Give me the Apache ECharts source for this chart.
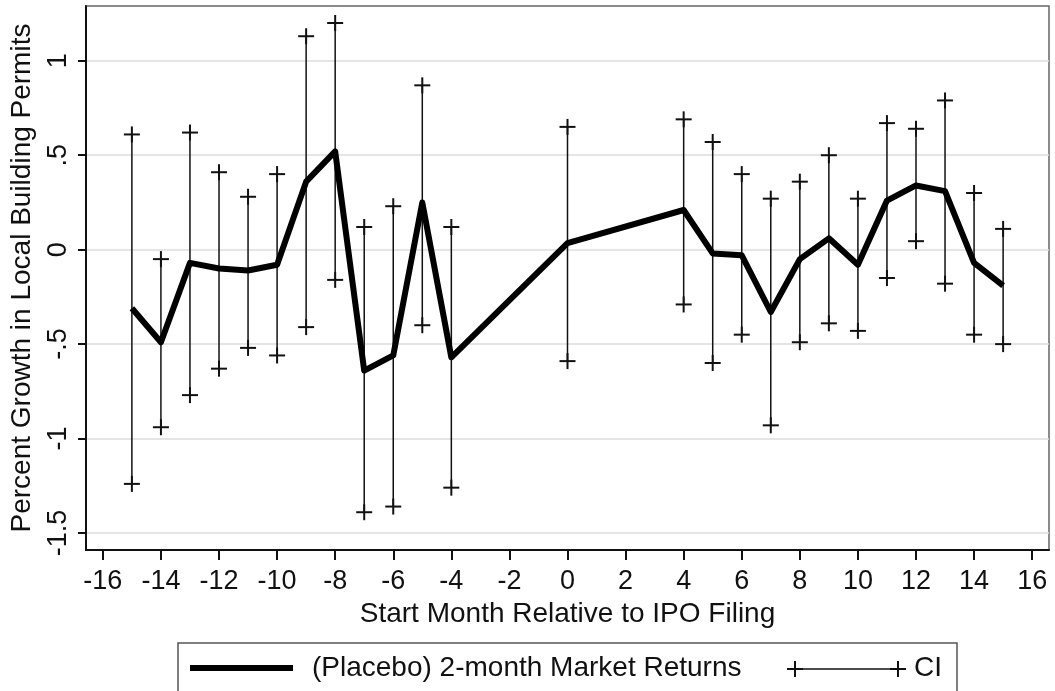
<!DOCTYPE html>
<html>
<head>
<meta charset="utf-8">
<script src="https://cdn.jsdelivr.net/npm/echarts@6/dist/echarts.min.js"></script>
<style>
  html, body { margin: 0; padding: 0; background: #fff; }
  #chart { width: 1055px; height: 691px; }
</style>
</head>
<body>
<div id="chart"></div>
<script>
// months relative to IPO filing
const months = [-15, -14, -13, -12, -11, -10, -9, -8, -7, -6, -5, -4, 0, 4, 5, 6, 7, 8, 9, 10, 11, 12, 13, 14, 15];
// point estimates
const estimates = [-0.31, -0.49, -0.07, -0.10, -0.11, -0.08, 0.36, 0.52, -0.64, -0.56, 0.25, -0.57, 0.035, 0.21, -0.02, -0.03, -0.33, -0.05, 0.06, -0.08, 0.26, 0.34, 0.31, -0.07, -0.19];
// confidence interval bounds
const ciUpper = [0.61, -0.05, 0.62, 0.41, 0.28, 0.40, 1.13, 1.20, 0.12, 0.23, 0.87, 0.12, 0.65, 0.69, 0.57, 0.40, 0.27, 0.36, 0.50, 0.27, 0.67, 0.64, 0.79, 0.30, 0.11];
const ciLower = [-1.24, -0.94, -0.77, -0.63, -0.52, -0.56, -0.41, -0.16, -1.39, -1.36, -0.40, -1.26, -0.59, -0.29, -0.60, -0.45, -0.93, -0.49, -0.39, -0.43, -0.15, 0.045, -0.18, -0.45, -0.50];
// tick labels
const xTicks = [-16, -14, -12, -10, -8, -6, -4, -2, 0, 2, 4, 6, 8, 10, 12, 14, 16];
const yTicks = [-1.5, -1, -0.5, 0, 0.5, 1];

const FONT = '"Liberation Sans", Arial, sans-serif';

const lineData = months.map((m, i) => [m, estimates[i]]);
const ciData = months.map((m, i) => [m, ciLower[i], ciUpper[i]]);

function stataNum(v) {
    return String(v).replace('0.', '.');
}

function renderCI(params, api) {
    const x = api.value(0);
    const lo = api.coord([x, api.value(1)]);
    const hi = api.coord([x, api.value(2)]);
    const c = 8; // half size of the "+" cap
    const st = { stroke: '#111', lineWidth: 1.5 };
    const cap = { stroke: '#111', lineWidth: 2 };
    return {
        type: 'group',
        children: [
            { type: 'line', shape: { x1: lo[0], y1: lo[1], x2: hi[0], y2: hi[1] }, style: st },
            { type: 'line', shape: { x1: hi[0] - c, y1: hi[1], x2: hi[0] + c, y2: hi[1] }, style: cap },
            { type: 'line', shape: { x1: hi[0], y1: hi[1] - c, x2: hi[0], y2: hi[1] + c }, style: cap },
            { type: 'line', shape: { x1: lo[0] - c, y1: lo[1], x2: lo[0] + c, y2: lo[1] }, style: cap },
            { type: 'line', shape: { x1: lo[0], y1: lo[1] - c, x2: lo[0], y2: lo[1] + c }, style: cap }
        ]
    };
}

const chartOptions = {
    backgroundColor: '#fff',
    animation: false,
    grid: {
        left: 84, right: 6, top: 6, bottom: 141,
        show: true,
        borderColor: '#666',
        borderWidth: 1.5
    },
    xAxis: {
        type: 'value',
        min: -16.58,
        max: 16.58,
        name: 'Start Month Relative to IPO Filing',
        nameLocation: 'middle',
        nameGap: 48,
        nameTextStyle: { fontFamily: FONT, fontSize: 28, color: '#111' },
        axisLine: { show: true, onZero: false, lineStyle: { color: '#111', width: 2 } },
        axisTick: { show: true, length: 10, customValues: xTicks, lineStyle: { color: '#111', width: 2 } },
        axisLabel: {
            customValues: xTicks,
            fontFamily: FONT, fontSize: 27, color: '#111', margin: 18
        },
        splitLine: { show: false }
    },
    yAxis: {
        type: 'value',
        min: -1.59,
        max: 1.29,
        name: 'Percent Growth in Local Building Permits',
        nameLocation: 'middle',
        nameRotate: 90,
        nameGap: 50,
        nameTextStyle: { fontFamily: FONT, fontSize: 28, color: '#111' },
        axisLine: { show: true, onZero: false, lineStyle: { color: '#111', width: 2 } },
        axisTick: { show: true, length: 8, customValues: yTicks, lineStyle: { color: '#111', width: 2 } },
        axisLabel: {
            customValues: yTicks,
            rotate: 90,
            formatter: stataNum,
            fontFamily: FONT, fontSize: 27, color: '#111', margin: 14
        },
        splitLine: { show: true, lineStyle: { color: '#dcdcdc', width: 1.5 } }
    },
    series: [
        {
            name: 'CI',
            type: 'custom',
            renderItem: renderCI,
            data: ciData,
            z: 2
        },
        {
            name: '(Placebo) 2-month Market Returns',
            type: 'line',
            data: lineData,
            showSymbol: false,
            lineStyle: { color: '#000', width: 6, join: 'round' },
            z: 3
        }
    ],
    graphic: [
        { type: 'rect', shape: { x: 178, y: 643, width: 779, height: 70 }, style: { fill: 'none', stroke: '#555', lineWidth: 1.5 } },
        { type: 'line', shape: { x1: 190, y1: 668, x2: 293, y2: 668 }, style: { stroke: '#000', lineWidth: 6 } },
        { type: 'text', x: 312, y: 668, style: { text: '(Placebo) 2-month Market Returns', font: '28px ' + FONT, fill: '#111', verticalAlign: 'middle' } },
        { type: 'line', shape: { x1: 795, y1: 669, x2: 898, y2: 669 }, style: { stroke: '#111', lineWidth: 1.5 } },
        { type: 'line', shape: { x1: 787, y1: 669, x2: 803, y2: 669 }, style: { stroke: '#111', lineWidth: 2 } },
        { type: 'line', shape: { x1: 795, y1: 661, x2: 795, y2: 677 }, style: { stroke: '#111', lineWidth: 2 } },
        { type: 'line', shape: { x1: 890, y1: 669, x2: 906, y2: 669 }, style: { stroke: '#111', lineWidth: 2 } },
        { type: 'line', shape: { x1: 898, y1: 661, x2: 898, y2: 677 }, style: { stroke: '#111', lineWidth: 2 } },
        { type: 'text', x: 914, y: 668, style: { text: 'CI', font: '28px ' + FONT, fill: '#111', verticalAlign: 'middle' } }
    ]
};

const chart = echarts.init(document.getElementById('chart'));
chart.setOption(chartOptions);
</script>
</body>
</html>
